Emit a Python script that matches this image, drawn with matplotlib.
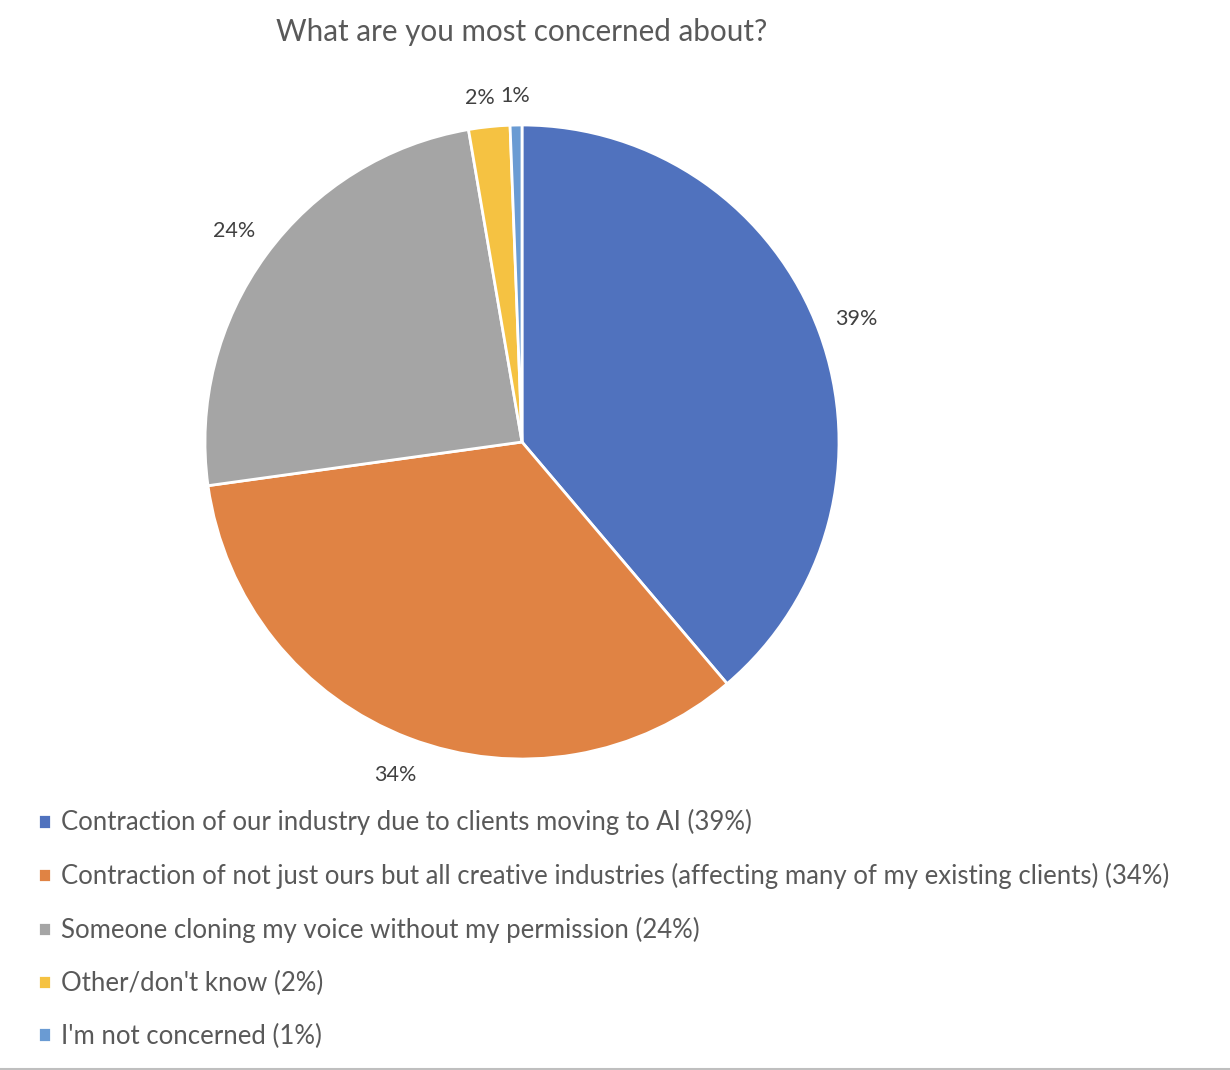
import matplotlib.pyplot as plt

plt.rcParams['font.family'] = ['Lato', 'DejaVu Sans']

# survey answers, share of respondents (%)
categories = [
    "Contraction of our industry due to clients moving to AI (39%)",
    "Contraction of not just ours but all creative industries (affecting many of my existing clients) (34%)",
    "Someone cloning my voice without my permission (24%)",
    "Other/don't know (2%)",
    "I'm not concerned (1%)",
]
shares = [38.8, 34.0, 24.5, 2.1, 0.6]
pct_labels = ["39%", "34%", "24%", "2%", "1%"]
colors = ["#5072BE", "#E08344", "#A5A5A5", "#F5C242", "#6A9BD3"]

fig = plt.figure(figsize=(12.3, 10.7), dpi=100)
ax = fig.add_axes([205 / 1230, 311 / 1070, 634 / 1230, 634 / 1070])

wedges, texts = ax.pie(shares, labels=pct_labels, colors=colors, startangle=90,
                       counterclock=False, labeldistance=1.125,
                       wedgeprops=dict(edgecolor='white', linewidth=2),
                       textprops=dict(fontsize=15.5, color='#404040'))
for t, s in zip(texts, shares):
    t.set_ha('center')
    t.set_va('center')
    if s < 5:
        # small slices: labels sit a bit closer and spread apart
        x, y = t.get_position()
        t.set_position((x * 0.97 - (0.02 if s > 1 else 0.0), y * 0.97))
ax.set_xlim(-1, 1)
ax.set_ylim(-1, 1)
ax.set_aspect('equal')

fig.text(522 / 1230, 1 - 32 / 1070, "What are you most concerned about?",
         ha='center', va='center', fontsize=21.3, color='#595959')

fig.legend(wedges, categories, loc='upper left', bbox_to_anchor=(28 / 1230, 1 - 799 / 1070),
           frameon=False, fontsize=18.5, handlelength=0.5, handleheight=0.5,
           handletextpad=0.38, labelspacing=1.08, labelcolor='#595959', borderaxespad=0)

# bottom border line of the chart area
fig.add_artist(plt.Line2D([0, 1], [1.5 / 1070, 1.5 / 1070], color='#BFBFBF', linewidth=1.5))

fig.savefig('out.png', dpi=100, facecolor='white')
